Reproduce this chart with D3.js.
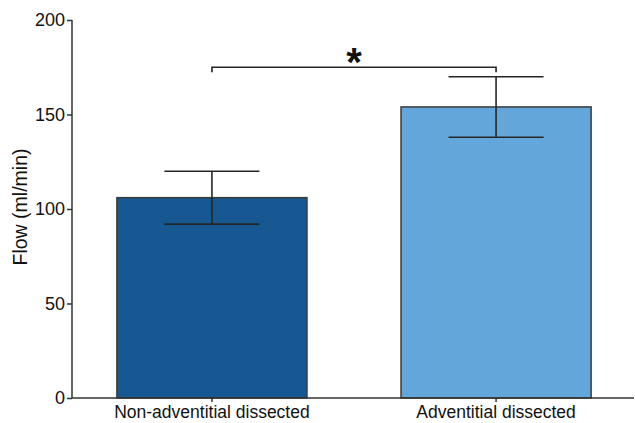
<!DOCTYPE html>
<html>
<head>
<meta charset="utf-8">
<script src="https://cdn.jsdelivr.net/npm/d3@7"></script>
<style>
html,body{margin:0;padding:0;background:#fff;}
svg{display:block;font-family:"Liberation Sans",Arial,Helvetica,sans-serif;}
</style>
</head>
<body>
<svg id="chart" width="635" height="423"></svg>
<script>
const categories = ["Non-adventitial dissected", "Adventitial dissected"];
const means = [106, 154];
const errors = [14, 16];
const barColors = ["#175893", "#63a6da"];
const yTicks = [0, 50, 100, 150, 200];
const yLabel = "Flow (ml/min)";
const sigPair = [0, 1];
const sigLevel = 175;
const sigMark = "*";

const svg = d3.select("#chart");
const y = d3.scaleLinear().domain([0, 200]).range([398, 20]);
const x = d3.scaleBand().domain(categories).range([72, 636]).paddingInner(0.331).paddingOuter(0.158);

// bars
svg.selectAll("rect.bar").data(categories).enter().append("rect")
  .attr("class", "bar")
  .attr("x", d => x(d))
  .attr("width", x.bandwidth())
  .attr("y", (d, i) => y(means[i]))
  .attr("height", (d, i) => y(0) - y(means[i]))
  .attr("fill", (d, i) => barColors[i])
  .attr("stroke", "#3a3a3a")
  .attr("stroke-width", 1.5);

// error bars
const eg = svg.append("g").attr("stroke", "#262626").attr("stroke-width", 1.6).attr("fill", "none");
categories.forEach((c, i) => {
  const cx = x(c) + x.bandwidth() / 2;
  const hw = x.bandwidth() / 4;
  eg.append("line").attr("x1", cx).attr("x2", cx).attr("y1", y(means[i] + errors[i])).attr("y2", y(means[i] - errors[i]));
  eg.append("line").attr("x1", cx - hw).attr("x2", cx + hw).attr("y1", y(means[i] + errors[i])).attr("y2", y(means[i] + errors[i]));
  eg.append("line").attr("x1", cx - hw).attr("x2", cx + hw).attr("y1", y(means[i] - errors[i])).attr("y2", y(means[i] - errors[i]));
});

// y axis
const yAxis = d3.axisLeft(y).tickValues(yTicks).tickSize(5).tickPadding(2);
const ya = svg.append("g").attr("transform", "translate(72,0)").call(yAxis);
ya.select(".domain").attr("stroke", "#333").attr("stroke-width", 1.5).attr("d", "M0," + y(200) + "V" + y(0));
ya.selectAll(".tick line").attr("stroke", "#333").attr("stroke-width", 1.5);
ya.selectAll(".tick text").attr("font-size", 18).attr("fill", "#111").attr("font-family", "Liberation Sans, Arial, sans-serif");

// x axis
const xAxis = d3.axisBottom(x).tickSize(4).tickPadding(4);
const xa = svg.append("g").attr("transform", "translate(0," + y(0) + ")").call(xAxis);
xa.select(".domain").attr("stroke", "#333").attr("stroke-width", 1.5).attr("d", "M72,0H634");
xa.selectAll(".tick line").attr("stroke", "#333").attr("stroke-width", 1.5);
xa.selectAll(".tick text").attr("font-size", 17.5).attr("fill", "#111").attr("font-family", "Liberation Sans, Arial, sans-serif");

// y label
svg.append("text")
  .attr("transform", "translate(27," + 207 + ") rotate(-90)")
  .attr("text-anchor", "middle")
  .attr("font-size", 19.5)
  .attr("fill", "#111")
  .text(yLabel);

// significance bracket
const x1 = x(categories[sigPair[0]]) + x.bandwidth() / 2;
const x2 = x(categories[sigPair[1]]) + x.bandwidth() / 2;
const by = y(sigLevel);
svg.append("path")
  .attr("d", `M${x1},${by + 5}V${by}H${x2}V${by + 5}`)
  .attr("fill", "none").attr("stroke", "#262626").attr("stroke-width", 1.6);
svg.append("text")
  .attr("x", (x1 + x2) / 2)
  .attr("y", by + 9)
  .attr("text-anchor", "middle")
  .attr("font-size", 40)
  .attr("font-weight", "bold")
  .attr("fill", "#111")
  .text(sigMark);
</script>
</body>
</html>
